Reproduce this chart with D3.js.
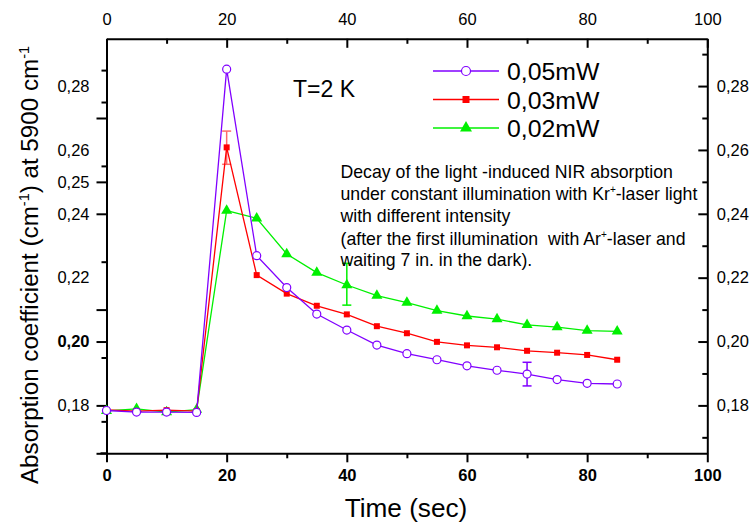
<!DOCTYPE html>
<html lang="en">
<head>
<meta charset="utf-8">
<title>NIR absorption decay</title>
<script src="https://d3js.org/d3.v7.min.js"></script>
<style>
  body { margin: 0; background: #fff; }
  svg { font-family: Arial, "Liberation Sans", sans-serif; }
  .axis path, .axis line { stroke: #000; stroke-width: 2; }
  .axis text { fill: #000; font-size: 16.5px; }
</style>
</head>
<body>
<script>
"use strict";

// data
const time = [0, 5, 10, 15, 20, 25, 30, 35, 40, 45, 50, 55, 60, 65, 70, 75, 80, 85];
const p005 = [0.1784, 0.1779, 0.1779, 0.1778, 0.2853, 0.2269, 0.2169, 0.2086, 0.2036, 0.1989,
              0.1962, 0.1943, 0.1924, 0.1910, 0.1898, 0.1881, 0.1869, 0.1867];
const p003 = [0.1786, 0.1782, 0.1785, 0.1782, 0.2608, 0.2208, 0.2150, 0.2112, 0.2085, 0.2048,
              0.2026, 0.1999, 0.1988, 0.1982, 0.1971, 0.1965, 0.1958, 0.1943];
const p002 = [0.1783, 0.1789, 0.1779, 0.1787, 0.2410, 0.2386, 0.2274, 0.2216, 0.2177, 0.2144,
              0.2122, 0.2097, 0.2080, 0.2070, 0.2052, 0.2045, 0.2034, 0.2032];

const seriesNames = ["0,05mW", "0,03mW", "0,02mW"];
// error bars: [series index, time, low, high]
const errBars = [[1, 20, 0.2555, 0.2659], [2, 40, 0.2114, 0.2245], [0, 70, 0.1861, 0.1935]];

const xTicks = [0, 20, 40, 60, 80, 100];
const xMinor = [10, 30, 50, 70, 90];
const yLabelVals = [0.28, 0.26, 0.25, 0.24, 0.22, 0.20, 0.18];
const leftLong = [0.270, 0.250, 0.240, 0.210, 0.200, 0.180, 0.165];
const leftShort = [0.285, 0.275, 0.255, 0.225, 0.195, 0.175];
const rightMajor = [0.18, 0.20, 0.22, 0.24, 0.26, 0.28];
const rightMinor = [0.17, 0.19, 0.21, 0.23, 0.25, 0.27, 0.29];

const w = 754, h = 524;
const colors = ["#8000ff", "#ff0000", "#00f000"];

const x = d3.scaleLinear().domain([0, 100]).range([106.5, 707.3]);
const y = d3.scaleLinear().domain([0.165, 0.2948]).range([453.3, 38.8]);
const fmt = d3.format(".2f");
const comma = v => fmt(v).replace(".", ",");

const svg = d3.select("body").append("svg").attr("width", w).attr("height", h);

// top axis
svg.append("g").attr("class", "axis").attr("transform", "translate(0," + y.range()[1] + ")")
  .call(d3.axisTop(x).tickValues(xTicks).tickSize(-9).tickSizeOuter(0).tickPadding(14))
  .call(g => g.selectAll(".tick text").attr("dy", "0"));
svg.append("g").attr("class", "axis").attr("transform", "translate(0," + y.range()[1] + ")")
  .call(d3.axisTop(x).tickValues(xMinor).tickSize(-5).tickFormat(""))
  .call(g => g.select(".domain").remove());

// bottom axis
svg.append("g").attr("class", "axis").attr("transform", "translate(0," + y.range()[0] + ")")
  .call(d3.axisBottom(x).tickValues(xTicks).tickSize(9).tickSizeOuter(0).tickPadding(4))
  .call(g => g.selectAll(".tick text").style("font-weight", "bold").attr("dy", "0.9em"));
svg.append("g").attr("class", "axis").attr("transform", "translate(0," + y.range()[0] + ")")
  .call(d3.axisBottom(x).tickValues(xMinor).tickSize(5).tickFormat(""))
  .call(g => g.select(".domain").remove());
// small stub of the bottom line left of the frame
svg.append("line").attr("x1", x(0) - 6).attr("x2", x(0)).attr("y1", y.range()[0]).attr("y2", y.range()[0])
  .attr("stroke", "#000").attr("stroke-width", 2);

// left axis (ticks, labels on the value positions)
const left = svg.append("g").attr("class", "axis").attr("transform", "translate(" + x(0) + ",0)");
left.call(d3.axisLeft(y).tickValues(leftLong).tickSize(10).tickSizeOuter(0).tickFormat(""));
left.append("g").call(d3.axisLeft(y).tickValues(leftShort).tickSize(5).tickFormat(""))
  .call(g => g.select(".domain").remove());
left.append("g").call(d3.axisLeft(y).tickValues(yLabelVals).tickSize(0).tickPadding(17).tickFormat(comma))
  .call(g => g.select(".domain").remove())
  .call(g => g.selectAll(".tick text").style("font-weight", d => d === 0.20 ? "bold" : "normal"));

// right axis
const right = svg.append("g").attr("class", "axis").attr("transform", "translate(" + x(100) + ",0)");
right.call(d3.axisRight(y).tickValues(rightMajor).tickSize(-9).tickSizeOuter(0).tickPadding(9.5).tickFormat(comma));
right.append("g").call(d3.axisRight(y).tickValues(rightMinor).tickSize(-5).tickFormat(""))
  .call(g => g.select(".domain").remove());

// error bars
errBars.forEach(function(e) {
  const g = svg.append("g").attr("stroke", e[0] === 1 ? "#ff6a6a" : colors[e[0]]).attr("stroke-width", 1.5);
  g.append("line").attr("x1", x(e[1])).attr("x2", x(e[1])).attr("y1", y(e[2])).attr("y2", y(e[3]));
  [e[2], e[3]].forEach(v => g.append("line").attr("x1", x(e[1]) - 4.5).attr("x2", x(e[1]) + 4.5)
    .attr("y1", y(v)).attr("y2", y(v)));
});

const line = d3.line().x((d, i) => x(time[i])).y(d => y(d));

function marker(g, k, cx, cy, big) {
  if (k === 0) {
    g.append("circle").attr("cx", cx).attr("cy", cy).attr("r", big ? 4.5 : 4)
      .attr("fill", "#fff").attr("stroke", colors[0]).attr("stroke-width", 1.2);
  } else if (k === 1) {
    const s = big ? 7 : 6;
    g.append("rect").attr("x", cx - s / 2).attr("y", cy - s / 2).attr("width", s).attr("height", s)
      .attr("fill", colors[1]);
  } else {
    const s = big ? 12 : 11;
    g.append("path").attr("d", d3.symbol().type(d3.symbolTriangle).size(s * s * 0.433)())
      .attr("transform", "translate(" + cx + "," + cy + ")").attr("fill", colors[2]);
  }
}

// draw green, red, then purple on top
[[2, p002], [1, p003], [0, p005]].forEach(function(s) {
  const k = s[0], vals = s[1];
  const g = svg.append("g");
  g.append("path").datum(vals).attr("d", line).attr("fill", "none")
    .attr("stroke", colors[k]).attr("stroke-width", 1.3);
  vals.forEach((v, i) => marker(g, k, x(time[i]), y(v), false));
});

// legend
const legY = [71, 99.5, 128];
seriesNames.forEach(function(name, k) {
  const g = svg.append("g");
  g.append("line").attr("x1", 433).attr("x2", 499).attr("y1", legY[k]).attr("y2", legY[k])
    .attr("stroke", colors[k]).attr("stroke-width", 1.3);
  marker(g, k, 466, legY[k], true);
  g.append("text").attr("x", 507).attr("y", legY[k] + 9).style("font-size", "24.8px").text(name);
});

svg.append("text").attr("x", 293).attr("y", 96.5).style("font-size", "23px").text("T=2 K");

// annotation
const note = svg.append("text").style("font-size", "17.7px");
const noteLines = [
  ["Decay of the light -induced NIR absorption"],
  ["under constant illumination with Kr", "+", "-laser light"],
  ["with different intensity"],
  ["(after the first illumination  with Ar", "+", "-laser and"],
  ["waiting 7 in. in the dark)."]
];
const noteY = [177.5, 199.5, 222, 244.5, 266];
noteLines.forEach(function(parts, i) {
  const t = note.append("tspan").attr("x", 340.5).attr("y", noteY[i]).attr("xml:space", "preserve");
  parts.forEach(function(p, j) {
    if (j === 1) t.append("tspan").attr("dy", -7).style("font-size", "10px").text(p);
    else if (j === 2) t.append("tspan").attr("dy", 7).text(p);
    else t.append("tspan").text(p);
  });
});

// axis titles
svg.append("text").attr("x", 406).attr("y", 517).attr("text-anchor", "middle")
  .style("font-size", "26.2px").text("Time (sec)");

const yt = svg.append("text").attr("transform", "translate(38,265) rotate(-90)")
  .attr("text-anchor", "middle").style("font-size", "24.2px");
yt.append("tspan").text("Absorption coefficient (cm");
yt.append("tspan").attr("dy", -9).style("font-size", "14.5px").text("-1");
yt.append("tspan").attr("dy", 9).text(") at 5900 cm");
yt.append("tspan").attr("dy", -9).style("font-size", "14.5px").text("-1");
</script>
</body>
</html>
